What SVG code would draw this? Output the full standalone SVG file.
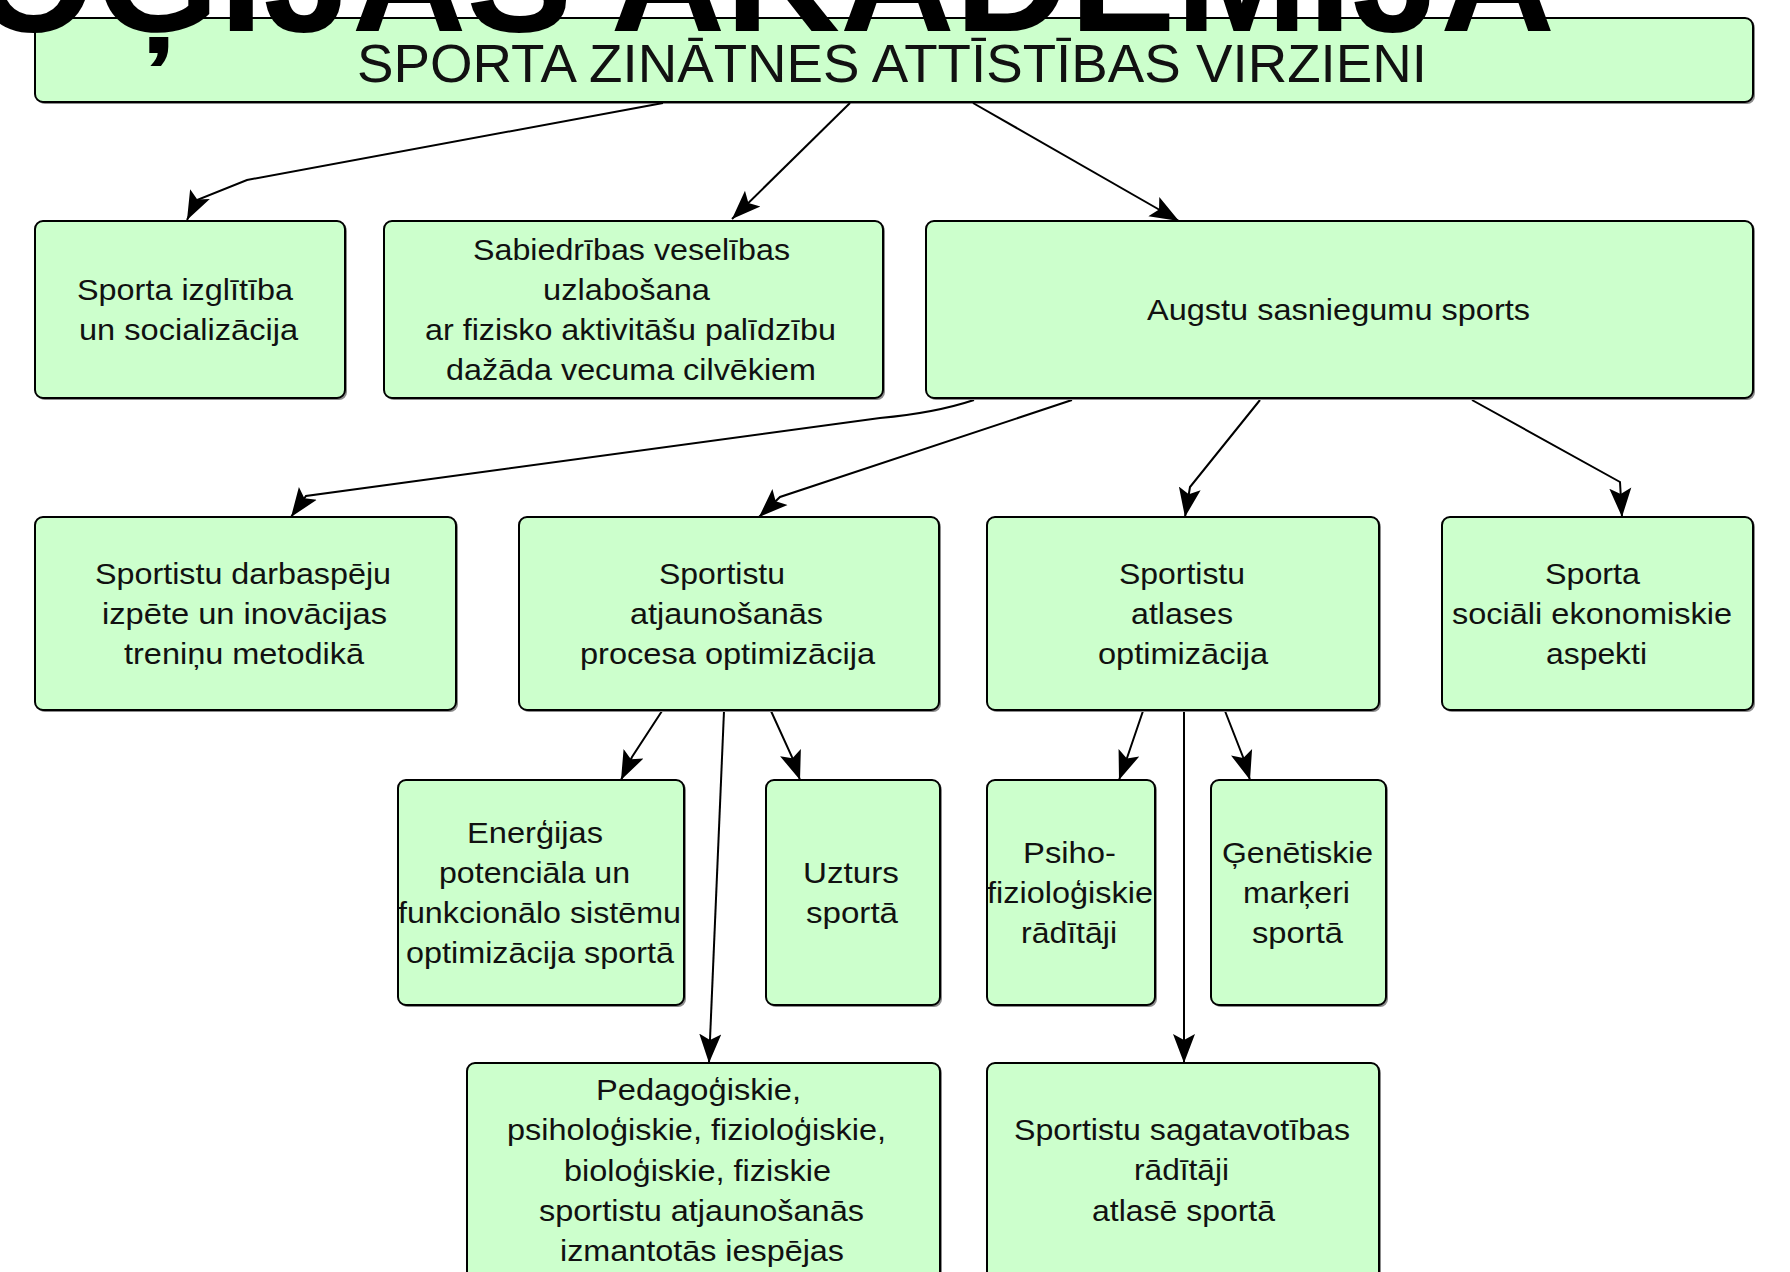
<svg xmlns="http://www.w3.org/2000/svg" width="1790" height="1272" viewBox="0 0 1790 1272">
<style>
.box{fill:#ccffcc;stroke:#000;stroke-width:2}
.sh{fill:#8c8c8c}
.t{font-family:"Liberation Sans",Arial,sans-serif;font-size:30px;fill:#111}
.title{font-family:"Liberation Sans",Arial,sans-serif;font-size:54px;fill:#111}
.big{font-family:"Liberation Sans",Arial,sans-serif;font-size:158px;font-weight:bold;fill:#000}
.conn{fill:none;stroke:#000;stroke-width:2;marker-end:url(#arr)}
</style>
<defs>
<marker id="arr" markerUnits="userSpaceOnUse" viewBox="0 0 30 24" markerWidth="30" markerHeight="24" refX="29" refY="12" orient="auto">
<path d="M0,1 L29,12 L0,23 L6,12 z" fill="#000"/>
</marker>
</defs>
<rect width="1790" height="1272" fill="#fff"/>

<g id="title">
<rect class="sh" x="37" y="20" width="1718" height="84" rx="8"/>
<rect class="box" x="35" y="18" width="1718" height="84" rx="8"/>
<text class="title" x="357" y="82" textLength="1070" lengthAdjust="spacingAndGlyphs">SPORTA ZINĀTNES ATTĪSTĪBAS VIRZIENI</text>
</g>

<g id="connectors">
<path class="conn" d="M663,103 L247,180 L197,200 L187,220"/>
<path class="conn" d="M850,103 L732,219"/>
<path class="conn" d="M973,103 L1179,221"/>
<path class="conn" d="M974,400 Q935,413 880,418 L306,496 L291,517"/>
<path class="conn" d="M1072,400 L780,497 L759,517"/>
<path class="conn" d="M1260,400 L1190,487 L1185,517"/>
<path class="conn" d="M1472,400 L1620,482 L1622,517"/>
<path class="conn" d="M662,711 L632,757 L621,780"/>
<path class="conn" d="M724,711 L709,1063"/>
<path class="conn" d="M771,711 L792,757 L800,780"/>
<path class="conn" d="M1143,711 L1127,758 L1119,780"/>
<path class="conn" d="M1184,711 L1184,1063"/>
<path class="conn" d="M1225,711 L1243,757 L1250,780"/>
</g>

<g id="node-a">
<rect class="sh" x="37" y="223" width="310" height="177" rx="8"/>
<rect class="box" x="35" y="221" width="310" height="177" rx="8"/>
<text class="t" x="77" y="300" textLength="216" lengthAdjust="spacingAndGlyphs">Sporta izglītība</text>
<text class="t" x="79" y="340" textLength="219" lengthAdjust="spacingAndGlyphs">un socializācija</text>
</g>

<g id="node-b">
<rect class="sh" x="386" y="223" width="499" height="177" rx="8"/>
<rect class="box" x="384" y="221" width="499" height="177" rx="8"/>
<text class="t" x="473" y="260" textLength="317" lengthAdjust="spacingAndGlyphs">Sabiedrības veselības</text>
<text class="t" x="543" y="300" textLength="167" lengthAdjust="spacingAndGlyphs">uzlabošana</text>
<text class="t" x="425" y="340" textLength="411" lengthAdjust="spacingAndGlyphs">ar fizisko aktivitāšu palīdzību</text>
<text class="t" x="446" y="380" textLength="370" lengthAdjust="spacingAndGlyphs">dažāda vecuma cilvēkiem</text>
</g>

<g id="node-c">
<rect class="sh" x="928" y="223" width="827" height="177" rx="8"/>
<rect class="box" x="926" y="221" width="827" height="177" rx="8"/>
<text class="t" x="1147" y="320" textLength="383" lengthAdjust="spacingAndGlyphs">Augstu sasniegumu sports</text>
</g>

<g id="node-d">
<rect class="sh" x="37" y="519" width="421" height="193" rx="8"/>
<rect class="box" x="35" y="517" width="421" height="193" rx="8"/>
<text class="t" x="95" y="584" textLength="296" lengthAdjust="spacingAndGlyphs">Sportistu darbaspēju</text>
<text class="t" x="102" y="624" textLength="285" lengthAdjust="spacingAndGlyphs">izpēte un inovācijas</text>
<text class="t" x="124" y="664" textLength="240" lengthAdjust="spacingAndGlyphs">treniņu metodikā</text>
</g>

<g id="node-e">
<rect class="sh" x="521" y="519" width="420" height="193" rx="8"/>
<rect class="box" x="519" y="517" width="420" height="193" rx="8"/>
<text class="t" x="659" y="584" textLength="126" lengthAdjust="spacingAndGlyphs">Sportistu</text>
<text class="t" x="630" y="624" textLength="193" lengthAdjust="spacingAndGlyphs">atjaunošanās</text>
<text class="t" x="580" y="664" textLength="295" lengthAdjust="spacingAndGlyphs">procesa optimizācija</text>
</g>

<g id="node-f">
<rect class="sh" x="989" y="519" width="392" height="193" rx="8"/>
<rect class="box" x="987" y="517" width="392" height="193" rx="8"/>
<text class="t" x="1119" y="584" textLength="126" lengthAdjust="spacingAndGlyphs">Sportistu</text>
<text class="t" x="1131" y="624" textLength="102" lengthAdjust="spacingAndGlyphs">atlases</text>
<text class="t" x="1098" y="664" textLength="170" lengthAdjust="spacingAndGlyphs">optimizācija</text>
</g>

<g id="node-g">
<rect class="sh" x="1444" y="519" width="311" height="193" rx="8"/>
<rect class="box" x="1442" y="517" width="311" height="193" rx="8"/>
<text class="t" x="1545" y="584" textLength="95" lengthAdjust="spacingAndGlyphs">Sporta</text>
<text class="t" x="1452" y="624" textLength="280" lengthAdjust="spacingAndGlyphs">sociāli ekonomiskie</text>
<text class="t" x="1546" y="664" textLength="101" lengthAdjust="spacingAndGlyphs">aspekti</text>
</g>

<g id="node-h">
<rect class="sh" x="400" y="782" width="286" height="225" rx="8"/>
<rect class="box" x="398" y="780" width="286" height="225" rx="8"/>
<text class="t" x="467" y="843" textLength="136" lengthAdjust="spacingAndGlyphs">Enerģijas</text>
<text class="t" x="439" y="883" textLength="191" lengthAdjust="spacingAndGlyphs">potenciāla un</text>
<text class="t" x="398" y="923" textLength="283" lengthAdjust="spacingAndGlyphs">funkcionālo sistēmu</text>
<text class="t" x="406" y="963" textLength="268" lengthAdjust="spacingAndGlyphs">optimizācija sportā</text>
</g>

<g id="node-i">
<rect class="sh" x="768" y="782" width="174" height="225" rx="8"/>
<rect class="box" x="766" y="780" width="174" height="225" rx="8"/>
<text class="t" x="803" y="883" textLength="96" lengthAdjust="spacingAndGlyphs">Uzturs</text>
<text class="t" x="806" y="923" textLength="92" lengthAdjust="spacingAndGlyphs">sportā</text>
</g>

<g id="node-j">
<rect class="sh" x="989" y="782" width="168" height="225" rx="8"/>
<rect class="box" x="987" y="780" width="168" height="225" rx="8"/>
<text class="t" x="1023" y="863" textLength="93" lengthAdjust="spacingAndGlyphs">Psiho-</text>
<text class="t" x="987" y="903" textLength="166" lengthAdjust="spacingAndGlyphs">fizioloģiskie</text>
<text class="t" x="1021" y="943" textLength="96" lengthAdjust="spacingAndGlyphs">rādītāji</text>
</g>

<g id="node-k">
<rect class="sh" x="1213" y="782" width="175" height="225" rx="8"/>
<rect class="box" x="1211" y="780" width="175" height="225" rx="8"/>
<text class="t" x="1222" y="863" textLength="151" lengthAdjust="spacingAndGlyphs">Ģenētiskie</text>
<text class="t" x="1243" y="903" textLength="107" lengthAdjust="spacingAndGlyphs">marķeri</text>
<text class="t" x="1252" y="943" textLength="91" lengthAdjust="spacingAndGlyphs">sportā</text>
</g>

<g id="node-l">
<rect class="sh" x="469" y="1065" width="473" height="240" rx="8"/>
<rect class="box" x="467" y="1063" width="473" height="240" rx="8"/>
<text class="t" x="596" y="1100" textLength="205" lengthAdjust="spacingAndGlyphs">Pedagoģiskie,</text>
<text class="t" x="507" y="1140" textLength="379" lengthAdjust="spacingAndGlyphs">psiholoģiskie, fizioloģiskie,</text>
<text class="t" x="564" y="1181" textLength="267" lengthAdjust="spacingAndGlyphs">bioloģiskie, fiziskie</text>
<text class="t" x="539" y="1221" textLength="325" lengthAdjust="spacingAndGlyphs">sportistu atjaunošanās</text>
<text class="t" x="560" y="1261" textLength="284" lengthAdjust="spacingAndGlyphs">izmantotās iespējas</text>
</g>

<g id="node-m">
<rect class="sh" x="989" y="1065" width="392" height="240" rx="8"/>
<rect class="box" x="987" y="1063" width="392" height="240" rx="8"/>
<text class="t" x="1014" y="1140" textLength="336" lengthAdjust="spacingAndGlyphs">Sportistu sagatavotības</text>
<text class="t" x="1134" y="1180" textLength="95" lengthAdjust="spacingAndGlyphs">rādītāji</text>
<text class="t" x="1092" y="1221" textLength="183" lengthAdjust="spacingAndGlyphs">atlasē sportā</text>
</g>

<g id="overlay-heading">
<text class="big" x="-28" y="31" textLength="1583" lengthAdjust="spacingAndGlyphs">OĢIJAS AKADĒMIJA</text>
</g>
</svg>
